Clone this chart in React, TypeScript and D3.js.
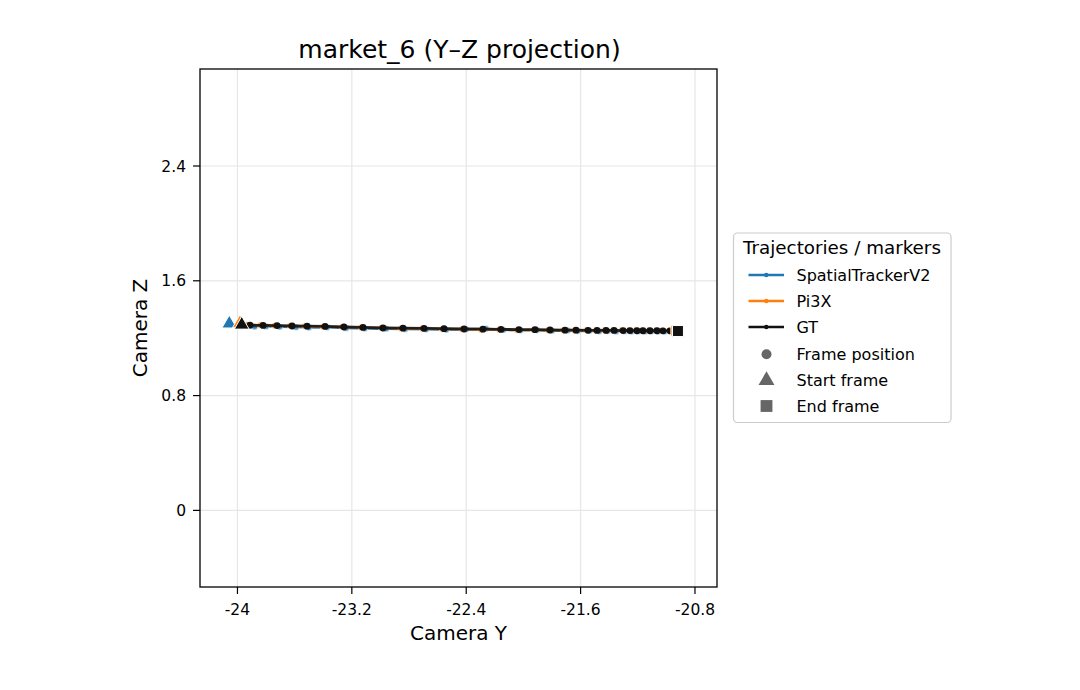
import React from "react";
import * as d3 from "d3";

const title = "market_6 (Y–Z projection)";
const xTicks = [-24, -23.2, -22.4, -21.6, -20.8];
const yTicks = [0, 0.8, 1.6, 2.4];
const xDomain = [-24.262, -20.646];
const yDomain = [-0.534, 3.076];

const seriesNames = ["SpatialTrackerV2", "Pi3X", "GT"];
const seriesColors = ["#1f77b4", "#ff7f0e", "#111111"];

const stY = [-24.057, -23.88, -23.8, -23.705, -23.59, -23.5, -23.372, -23.24, -23.11, -22.96, -22.828, -22.68, -22.54, -22.4, -22.262, -22.14, -22.02, -21.905, -21.8, -21.69, -21.62, -21.538, -21.47, -21.41, -21.352, -21.29, -21.244, -21.196, -21.15, -21.104, -21.058, -21.012, -20.968, -20.925];
const stZ = [1.294, 1.28, 1.282, 1.279, 1.277, 1.275, 1.276, 1.27, 1.268, 1.266, 1.263, 1.262, 1.258, 1.262, 1.266, 1.258, 1.255, 1.257, 1.252, 1.254, 1.25, 1.252, 1.248, 1.25, 1.247, 1.249, 1.247, 1.248, 1.246, 1.248, 1.247, 1.246, 1.247, 1.246];

const piY = [-23.983, -23.935, -23.84, -23.74, -23.632, -23.528, -23.4, -23.268, -23.135, -22.995, -22.855, -22.708, -22.568, -22.43, -22.296, -22.17, -22.045, -21.93, -21.826, -21.72, -21.642, -21.558, -21.494, -21.432, -21.374, -21.312, -21.262, -21.214, -21.17, -21.122, -21.072, -21.03, -20.982, -20.93];
const piZ = [1.296, 1.294, 1.291, 1.287, 1.286, 1.283, 1.28, 1.279, 1.274, 1.272, 1.268, 1.268, 1.264, 1.263, 1.259, 1.26, 1.257, 1.258, 1.255, 1.256, 1.254, 1.255, 1.253, 1.255, 1.254, 1.255, 1.254, 1.255, 1.254, 1.255, 1.254, 1.254, 1.253, 1.252];

const gtY = [-23.97, -23.912, -23.821, -23.723, -23.618, -23.513, -23.387, -23.255, -23.122, -22.982, -22.842, -22.695, -22.555, -22.415, -22.283, -22.157, -22.031, -21.919, -21.814, -21.709, -21.632, -21.548, -21.485, -21.422, -21.366, -21.303, -21.255, -21.206, -21.164, -21.115, -21.066, -21.024, -20.975, -20.919];
const gtZ = [1.286, 1.29, 1.289, 1.288, 1.285, 1.284, 1.282, 1.278, 1.275, 1.271, 1.27, 1.268, 1.266, 1.264, 1.263, 1.261, 1.26, 1.259, 1.257, 1.256, 1.256, 1.255, 1.254, 1.254, 1.254, 1.253, 1.253, 1.252, 1.252, 1.252, 1.252, 1.251, 1.251, 1.25];

const markerLabels = ["Frame position", "Start frame", "End frame"];

const FONT = "DejaVu Sans, sans-serif";

export default function App() {
  const left = 200, right = 717, top = 69, bottom = 587;
  const x = d3.scaleLinear().domain(xDomain).range([left, right]);
  const y = d3.scaleLinear().domain(yDomain).range([bottom, top]);

  const series = [
    { xs: stY, zs: stZ },
    { xs: piY, zs: piZ },
    { xs: gtY, zs: gtZ },
  ];

  const line = d3.line<[number, number]>().x((d) => x(d[0])).y((d) => y(d[1]));
  const tri = d3.symbol().type(d3.symbolTriangle);
  const sq = d3.symbol().type(d3.symbolSquare);

  return (
    <svg width={1080} height={690} style={{ position: "absolute", left: 0, top: 0, fontFamily: FONT }}>
      <rect x={0} y={0} width={1080} height={690} fill="#fff" />
      <defs>
        <clipPath id="clip">
          <rect x={left} y={top} width={right - left} height={bottom - top} />
        </clipPath>
      </defs>
      {xTicks.map((t) => (
        <line key={"gx" + t} x1={x(t)} x2={x(t)} y1={top} y2={bottom} stroke="#e6e6e6" strokeWidth={1.2} />
      ))}
      {yTicks.map((t) => (
        <line key={"gy" + t} x1={left} x2={right} y1={y(t)} y2={y(t)} stroke="#e6e6e6" strokeWidth={1.2} />
      ))}
      <g clipPath="url(#clip)">
        {series.map((s, i) => {
          const pts = s.xs.map((v, j) => [v, s.zs[j]] as [number, number]);
          return (
            <g key={"s" + i}>
              <path d={line(pts) || ""} fill="none" stroke={seriesColors[i]} strokeWidth={i === 2 ? 2.8 : 2.4} strokeOpacity={0.9} />
              {pts.map((p, j) => (
                <circle key={j} cx={x(p[0])} cy={y(p[1])} r={i === 2 ? 3.4 : 3.2} fill={seriesColors[i]} fillOpacity={i === 2 ? 1 : 0.75} stroke="#fff" strokeWidth={i === 2 ? 0 : 0.6} />
              ))}
            </g>
          );
        })}
        {series.map((s, i) => (
          <path key={"st" + i} d={tri.size(95)() || ""} transform={`translate(${x(s.xs[0])},${y(s.zs[0]) - 1})`} fill={seriesColors[i]} stroke="#fff" strokeWidth={1} />
        ))}
        {series.map((s, i) => {
          const n = s.xs.length - 1;
          return (
            <path key={"en" + i} d={sq.size(120)() || ""} transform={`translate(${x(s.xs[n])},${y(s.zs[n])})`} fill={seriesColors[i]} stroke="#fff" strokeWidth={1} />
          );
        })}
      </g>
      <rect x={left} y={top} width={right - left} height={bottom - top} fill="none" stroke="#000" strokeWidth={1.3} />
      {xTicks.map((t) => (
        <g key={"xt" + t}>
          <line x1={x(t)} x2={x(t)} y1={bottom} y2={bottom + 7} stroke="#000" strokeWidth={1.2} />
          <text x={x(t)} y={615} textAnchor="middle" fontSize={15.5} fill="#000">{String(t)}</text>
        </g>
      ))}
      {yTicks.map((t) => (
        <g key={"yt" + t}>
          <line x1={left - 7} x2={left} y1={y(t)} y2={y(t)} stroke="#000" strokeWidth={1.2} />
          <text x={186} y={y(t)} dy="0.36em" textAnchor="end" fontSize={15.5} fill="#000">{String(t)}</text>
        </g>
      ))}
      <text x={(left + right) / 2} y={640} textAnchor="middle" fontSize={20} fill="#000">Camera Y</text>
      <text transform={`translate(147,${(top + bottom) / 2}) rotate(-90)`} textAnchor="middle" fontSize={20} fill="#000">Camera Z</text>
      <text x={(left + right) / 2 + 1} y={58} textAnchor="middle" fontSize={25} fill="#000">{title}</text>

      <g>
        <rect x={733.5} y={233} width={217.5} height={189.5} rx={4} fill="#fff" fillOpacity={0.8} stroke="#cccccc" strokeWidth={1.2} />
        <text x={842} y={254} textAnchor="middle" fontSize={18.3} fill="#000">Trajectories / markers</text>
        {seriesNames.map((nm, i) => (
          <g key={"lg" + i}>
            <line x1={748.5} x2={784} y1={275 + i * 26} y2={275 + i * 26} stroke={seriesColors[i]} strokeWidth={2.6} />
            <circle cx={766.3} cy={275 + i * 26} r={2.2} fill={seriesColors[i]} />
            <text x={796.5} y={281 + i * 26} fontSize={16} fill="#000">{nm}</text>
          </g>
        ))}
        <circle cx={766.5} cy={354.3} r={5} fill="#666" />
        <path d={tri.size(110)() || ""} transform="translate(766.5,380.5)" fill="#666" />
        <path d={sq.size(140)() || ""} transform="translate(766.5,406)" fill="#666" />
        {markerLabels.map((m, i) => (
          <text key={"ml" + i} x={796.5} y={360 + i * 26} fontSize={16} fill="#000">{m}</text>
        ))}
      </g>
    </svg>
  );
}
